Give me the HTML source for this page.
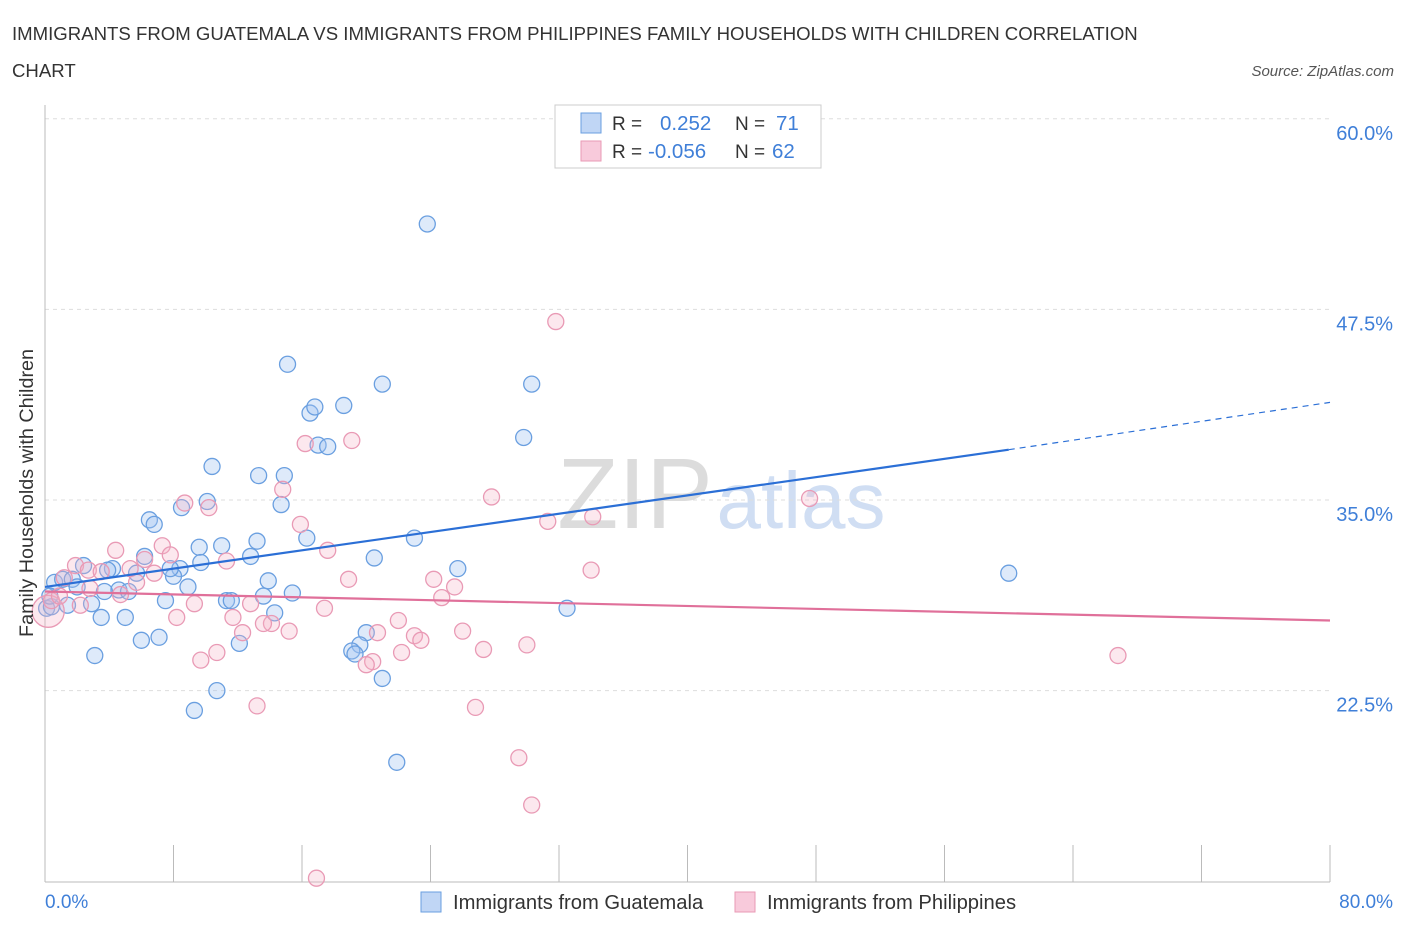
<!DOCTYPE html>
<html><head><meta charset="utf-8"><style>
body{margin:0;background:#fff;font-family:"Liberation Sans",sans-serif;}
svg text{font-family:"Liberation Sans",sans-serif;}
</style></head><body>
<svg id="c" width="1406" height="930">
<text x="12" y="40" font-size="18.6" fill="#333">IMMIGRANTS FROM GUATEMALA VS IMMIGRANTS FROM PHILIPPINES FAMILY HOUSEHOLDS WITH CHILDREN CORRELATION</text>
<text x="12" y="77" font-size="18.6" fill="#333">CHART</text>
<text x="1394" y="76" font-size="15" fill="#555" font-style="italic" text-anchor="end">Source: ZipAtlas.com</text>
<text x="635" y="528" font-size="100" fill="#dcdcdc" font-family="Liberation Serif" text-anchor="middle">ZIP</text>
<text x="801" y="528" font-size="80" fill="#d0def3" text-anchor="middle">atlas</text>
<g id="grid"></g><g id="axes"></g><g id="pts"></g><g id="lines"></g>
<text x="-493" y="33" transform="rotate(-90)" font-size="19.8" fill="#333" text-anchor="middle">Family Households with Children</text>
<g>
<rect x="555" y="105" width="266" height="63" fill="#fff" stroke="#ccc"/>
<rect x="581" y="113" width="20" height="20" fill="#c0d6f5" stroke="#6a9fe0"/>
<rect x="581" y="141" width="20" height="20" fill="#f8cadb" stroke="#e99ab5"/>
<text x="612" y="130" font-size="19" fill="#333">R = </text><text x="660" y="130" font-size="20.5" fill="#3f7fd8">0.252</text>
<text x="735" y="130" font-size="19" fill="#333">N = </text><text x="776" y="130" font-size="20.5" fill="#3f7fd8">71</text>
<text x="612" y="158" font-size="19" fill="#333">R = </text><text x="648" y="158" font-size="20.5" fill="#3f7fd8">-0.056</text>
<text x="735" y="158" font-size="19" fill="#333">N = </text><text x="772" y="158" font-size="20.5" fill="#3f7fd8">62</text>
</g>
<g>
<rect x="421" y="892" width="20" height="20" fill="#c0d6f5" stroke="#6a9fe0"/>
<text x="453" y="909" font-size="20.2" fill="#333">Immigrants from Guatemala</text>
<rect x="735" y="892" width="20" height="20" fill="#f8cadb" stroke="#e99ab5"/>
<text x="767" y="909" font-size="20.2" fill="#333">Immigrants from Philippines</text>
</g>
</svg>
<script>
const yTicks=[22.5,35,47.5,60];
const yTickLabels=["22.5%","35.0%","47.5%","60.0%"];
const xTicks=[0,8,16,24,32,40,48,56,64,72,80];
const xLabels=["0.0%","80.0%"];
const blueX=[23.8,15.1,21.0,30.3,16.5,16.8,18.6,17.0,17.6,29.8,10.4,13.3,14.9,10.1,8.5,14.7,6.5,6.8,23.0,16.3,13.2,9.6,11.0,6.2,12.8,20.5,9.7,8.4,25.7,60.0,2.4,4.2,5.7,8.0,7.8,3.9,0.6,1.1,1.7,2.0,4.6,5.2,3.7,8.9,13.9,15.4,13.6,7.5,11.3,11.6,2.9,1.4,0.1,0.4,32.5,14.3,3.5,5.0,20.0,7.1,6.0,12.1,19.6,19.1,19.3,3.1,10.7,9.3,21.0,21.9,0.3];
const blueY=[53.1,43.9,42.6,42.6,40.7,41.1,41.2,38.6,38.5,39.1,37.2,36.6,36.6,34.9,34.5,34.7,33.7,33.4,32.5,32.5,32.3,31.9,32.0,31.3,31.3,31.2,30.9,30.5,30.5,30.2,30.7,30.5,30.2,30.0,30.5,30.4,29.6,29.8,29.8,29.3,29.1,29.0,29.0,29.3,29.7,28.9,28.7,28.4,28.4,28.4,28.2,28.1,27.9,28.0,27.9,27.6,27.3,27.3,26.3,26.0,25.8,25.6,25.5,25.1,24.9,24.8,22.5,21.2,23.3,17.8,28.7];
const pinkX=[31.8,16.2,19.1,8.7,10.2,14.8,27.8,47.6,31.3,34.1,15.9,17.6,4.4,7.3,6.2,7.8,1.9,2.7,11.3,34.0,5.3,3.5,6.8,1.2,5.7,18.9,24.2,25.5,4.7,2.8,24.7,9.3,2.2,12.8,17.4,8.2,11.7,22.0,14.1,13.6,15.2,26.0,20.7,12.3,23.0,23.4,30.0,27.3,22.2,10.7,9.7,20.4,20.0,66.8,13.2,26.8,29.5,30.3,16.9,0.2,0.4,0.9];
const pinkY=[46.7,38.7,38.9,34.8,34.5,35.7,35.2,35.1,33.6,33.9,33.4,31.7,31.7,32.0,31.1,31.4,30.7,30.4,31.0,30.4,30.5,30.3,30.2,29.9,29.6,29.8,29.8,29.3,28.8,29.2,28.6,28.2,28.1,28.2,27.9,27.3,27.3,27.1,26.9,26.9,26.4,26.4,26.3,26.3,26.1,25.8,25.5,25.2,25.0,25.0,24.5,24.4,24.2,24.8,21.5,21.4,18.1,15.0,10.2,27.7,28.4,28.7];
const blueTrend=[29.3,38.3,41.4]; const blueTrendX=[0,60,80];
const pinkTrend=[29.0,27.1]; const pinkTrendX=[0,80];
const NS="http://www.w3.org/2000/svg";
const X=v=>45+v*1285/80, Y=v=>500-(v-35)*15.25;
function mk(tag,attrs,parent){const e=document.createElementNS(NS,tag);for(const k in attrs)e.setAttribute(k,attrs[k]);document.getElementById(parent).appendChild(e);return e;}
yTicks.forEach((t,i)=>{
 let l=mk('line',{x1:45,x2:1330,y1:Y(t),y2:Y(t),stroke:'#ddd','stroke-dasharray':'4,4'},'grid');
 
 
 let tx=mk('text',{x:1393,y:Y(t)+21,'font-size':20,fill:'#3f7fd8','text-anchor':'end'},'axes');tx.textContent=yTickLabels[i];
 
 
});
let ax=mk('line',{x1:45,x2:45,y1:105,y2:882,stroke:'#bbb'},'axes');


let bx=mk('line',{x1:45,x2:1330,y1:882,y2:882,stroke:'#bbb'},'axes');


xTicks.forEach(t=>{let l=mk('line',{x1:X(t),x2:X(t),y1:845,y2:882,stroke:'#bbb'},'axes');
 
 });
[[0,'start',45],[80,'end',1393]].forEach((d,i)=>{let tx=mk('text',{x:d[2],y:908,'font-size':19,fill:'#3f7fd8','text-anchor':d[1]},'axes');tx.textContent=xLabels[i];
 
 });
blueX.forEach((v,i)=>{let c=mk('circle',{cx:X(v),cy:Y(blueY[i]),r:8,fill:'rgba(160,195,240,0.35)',stroke:'#6a9fe0','stroke-width':1.3},'pts');
 
 });
pinkX.forEach((v,i)=>{let c=mk('circle',{cx:X(v),cy:Y(pinkY[i]),r:i==59?16:8,fill:'rgba(245,180,200,0.3)',stroke:'#e99ab5','stroke-width':1.3},'pts');
 
 });
let b1=mk('line',{x1:X(blueTrendX[0]),y1:Y(blueTrend[0]),x2:X(blueTrendX[1]),y2:Y(blueTrend[1]),stroke:'#2b6fd6','stroke-width':2.2},'lines');


let b2=mk('line',{x1:X(blueTrendX[1]),y1:Y(blueTrend[1]),x2:X(blueTrendX[2]),y2:Y(blueTrend[2]),stroke:'#2b6fd6','stroke-width':1.2,'stroke-dasharray':'6,5'},'lines');


let p1=mk('line',{x1:X(pinkTrendX[0]),y1:Y(pinkTrend[0]),x2:X(pinkTrendX[1]),y2:Y(pinkTrend[1]),stroke:'#e0709a','stroke-width':2.2},'lines');


</script>
</body></html>
